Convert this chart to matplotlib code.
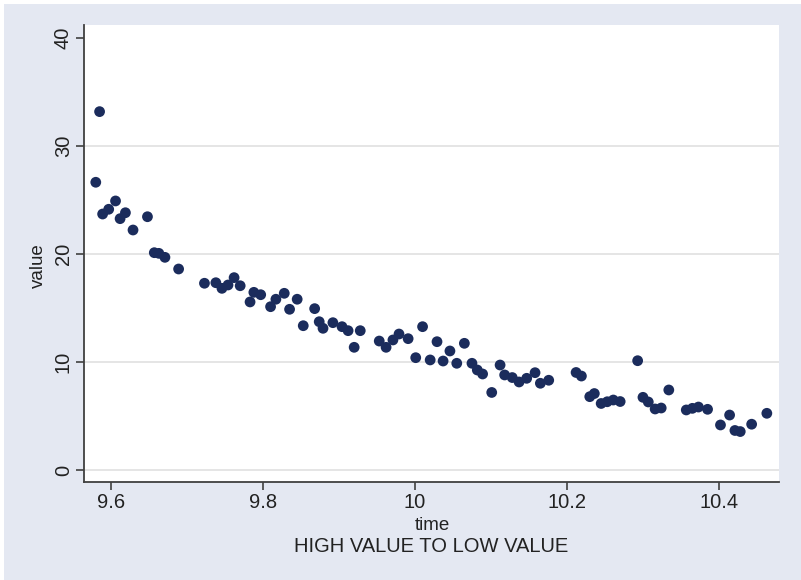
import matplotlib
matplotlib.use("Agg")
import matplotlib.pyplot as plt
from matplotlib.patches import Rectangle

plt.rcParams['font.family'] = ['Liberation Sans', 'DejaVu Sans']

time = [9.580, 9.585, 9.589, 9.597, 9.606, 9.612, 9.619, 9.629, 9.648, 9.657,
        9.663, 9.671, 9.689, 9.723, 9.738, 9.746, 9.754, 9.762, 9.770, 9.783,
        9.788, 9.797, 9.810, 9.817, 9.828, 9.835, 9.845, 9.853, 9.868, 9.874,
        9.879, 9.892, 9.904, 9.912, 9.920, 9.928, 9.953, 9.962, 9.971, 9.979,
        9.991, 10.001, 10.010, 10.020, 10.029, 10.037, 10.046, 10.055, 10.065, 10.075,
        10.082, 10.089, 10.101, 10.112, 10.118, 10.128, 10.137, 10.147, 10.158, 10.165,
        10.176, 10.212, 10.219, 10.230, 10.236, 10.245, 10.253, 10.261, 10.270, 10.293,
        10.300, 10.307, 10.316, 10.324, 10.334, 10.357, 10.365, 10.373, 10.385, 10.402,
        10.414, 10.421, 10.428, 10.443, 10.463]
value = [26.64, 33.18, 23.70, 24.14, 24.91, 23.27, 23.82, 22.22, 23.45, 20.12,
         20.06, 19.69, 18.61, 17.29, 17.34, 16.82, 17.13, 17.81, 17.06, 15.56,
         16.45, 16.23, 15.12, 15.81, 16.36, 14.88, 15.81, 13.36, 14.94, 13.73,
         13.12, 13.64, 13.27, 12.90, 11.36, 12.90, 11.94, 11.36, 12.04, 12.59,
         12.16, 10.40, 13.27, 10.19, 11.88, 10.09, 11.02, 9.88, 11.73, 9.88,
         9.26, 8.89, 7.18, 9.72, 8.80, 8.56, 8.15, 8.49, 9.01, 8.03,
         8.31, 9.03, 8.70, 6.79, 7.08, 6.16, 6.32, 6.48, 6.34, 10.12,
         6.73, 6.30, 5.65, 5.74, 7.41, 5.56, 5.71, 5.83, 5.62, 4.17,
         5.09, 3.66, 3.56, 4.24, 5.25]

x_ticks = [9.6, 9.8, 10.0, 10.2, 10.4]
x_labels = ["9.6", "9.8", "10", "10.2", "10.4"]
y_ticks = [0, 10, 20, 30, 40]
y_labels = ["0", "10", "20", "30", "40"]

W, H = 801, 580
bg = '#e4e8f2'
fig = plt.figure(figsize=(W / 100, H / 100), dpi=100)
fig.patch.set_facecolor('white')
fig.patches.append(Rectangle((4 / W, -0.05), 1.1, 1.05 - 4 / H, transform=fig.transFigure,
                             facecolor=bg, edgecolor='none', zorder=0))

ax = fig.add_axes([84 / W, (H - 482) / H, (779 - 84) / W, (482 - 25) / H])
ax.set_facecolor('white')
ax.set_zorder(1)

ax.set_xlim(9.5645, 10.479)
ax.set_ylim(-1.11, 41.2)

for yv in y_ticks[:-1]:
    ax.axhline(yv, color='#e3e3e3', lw=1.3, zorder=1)

ax.scatter(time, value, s=60, color='#1b2c5c', edgecolors='none', zorder=3)

for side in ['top', 'right']:
    ax.spines[side].set_visible(False)
for side in ['left', 'bottom']:
    ax.spines[side].set_color('#404040')
    ax.spines[side].set_linewidth(1.3)

ax.set_xticks(x_ticks)
ax.set_xticklabels(x_labels, fontsize=14.5, color='#222222')
ax.set_yticks(y_ticks)
ax.set_yticklabels(y_labels, fontsize=14.5, color='#222222', rotation=90, va='center')
ax.tick_params(axis='both', length=6, width=1.2, color='#404040')
ax.tick_params(axis='x', pad=2)
ax.tick_params(axis='y', pad=2)

fig.text(432 / W, 1 - 525 / H, "time", ha='center', va='center', fontsize=13.5, color='#222222')
fig.text(431 / W, 1 - 547 / H, "HIGH VALUE TO LOW VALUE", ha='center', va='center',
         fontsize=14.5, color='#222222')
fig.text(38 / W, 1 - 266 / H, "value", ha='center', va='center', rotation=90,
         fontsize=13.5, color='#222222')

fig.savefig("out.png", dpi=100, facecolor=fig.get_facecolor())
